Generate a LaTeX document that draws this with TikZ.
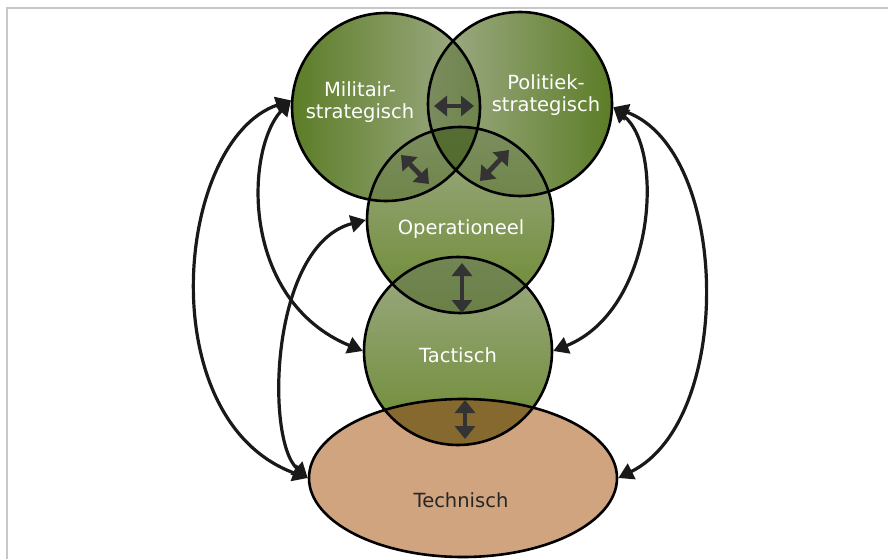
\documentclass[tikz,border=0pt]{standalone}
\usepackage{fontspec}
\setmainfont{DejaVu Sans}
\usetikzlibrary{arrows.meta,shapes.geometric}
\definecolor{gdark}{HTML}{5C7D27}
\definecolor{glight}{HTML}{A3AE8C}
\definecolor{gbot}{HTML}{6C8A30}
\definecolor{gtop}{HTML}{9DAA86}
\definecolor{gshade}{HTML}{3F5A18}
\definecolor{techfill}{HTML}{CFA47F}
\definecolor{olapbrown}{HTML}{85692F}
\definecolor{arrowgray}{HTML}{333333}
\definecolor{framegray}{HTML}{C8C8C8}
\begin{document}
\begin{tikzpicture}[x=1pt,y=1pt,
  shapeborder/.style={draw=black, line width=2.6pt, inner sep=0pt},
  lbl/.style={text=white, font=\fontsize{19.5}{21.5}\selectfont, align=center, inner sep=0pt},
  garrow/.style={draw=arrowgray, line width=4.8pt, {Triangle[length=13pt,width=20pt]}-{Triangle[length=13pt,width=20pt]}},
  link/.style={draw=black!90, line width=3.2pt, {Triangle[length=15pt,width=17pt]}-{Triangle[length=15pt,width=17pt]}}]
\useasboundingbox (0,0) rectangle (888,-559);
\fill[white] (0,0) rectangle (888,-559);
\draw[framegray, line width=2pt] (6.5,-559) -- (6.5,-8.5) -- (888,-8.5);

% centres
\coordinate (cM) at (386,-107);
\coordinate (cP) at (520,-104);
\coordinate (cO) at (460,-220);
\coordinate (cT) at (458,-351);
\coordinate (cX) at (463,-478);

% fills
\shade[left color=gdark, right color=glight] (cM) circle (94);
\shade[left color=glight, right color=gdark] (cP) circle (92);
\shade[top color=gtop, bottom color=gbot] (cO) circle (93);
\shade[top color=gtop, bottom color=gbot] (cT) circle (94);
\begin{scope}\clip (cM) circle (94); \fill[gshade, opacity=.4] (cP) circle (92);\end{scope}
\begin{scope}\clip (cM) circle (94); \fill[gshade, opacity=.35] (cO) circle (93);\end{scope}
\begin{scope}\clip (cP) circle (92); \fill[gshade, opacity=.35] (cO) circle (93);\end{scope}
\begin{scope}\clip (cO) circle (93); \fill[gshade, opacity=.45] (cT) circle (94);\end{scope}
\fill[techfill] (cX) ellipse [x radius=154, y radius=79];
\begin{scope}\clip (cX) ellipse [x radius=154, y radius=79]; \fill[olapbrown] (cT) circle (94);\end{scope}

% shapes (outlines)
\node[shapeborder, circle, minimum size=188pt] (mil) at (cM) {};
\node[shapeborder, circle, minimum size=184pt] (pol) at (cP) {};
\node[shapeborder, circle, minimum size=186pt] (op) at (cO) {};
\node[shapeborder, circle, minimum size=188pt] (tac) at (cT) {};
\node[shapeborder, ellipse, minimum width=308pt, minimum height=158pt] (tech) at (cX) {};

% labels
\node[lbl] (milT) at (360,-102) {Militair-\\strategisch};
\node[lbl] (polT) at (546,-95) {Politiek-\\strategisch};
\node[lbl, anchor=base] (opT) at (461,-234) {Operationeel};
\node[lbl, anchor=base] (tacT) at (458,-362) {Tactisch};
\node[lbl, anchor=base, text=black!85] (techT) at (461,-507) {Technisch};

% overlap arrows
\coordinate (mp1) at (434,-106); \coordinate (mp2) at (474,-106);
\coordinate (mo1) at (401,-155); \coordinate (mo2) at (429,-184);
\coordinate (po1) at (509,-150); \coordinate (po2) at (480,-181);
\coordinate (ot1) at (462,-263); \coordinate (ot2) at (462,-313);
\coordinate (tx1) at (465,-400); \coordinate (tx2) at (465,-439);
\draw[garrow] (mp1) -- (mp2);
\draw[garrow] (mo1) -- (mo2);
\draw[garrow] (po1) -- (po2);
\draw[garrow] (ot1) -- (ot2);
\draw[garrow] (tx1) -- (tx2);

% connectors
\draw[link] (mil.176) .. controls (175,-140) and (150,-420) .. (tech.west);
\draw[link] (mil.176) .. controls (245,-150) and (240,-300) .. (tac.west);
\draw[link] (op.west) .. controls (270,-245) and (265,-440) .. (tech.west);
\draw[link] (pol.-2) .. controls (665,-150) and (655,-310) .. (tac.east);
\draw[link] (pol.-2) .. controls (730,-150) and (735,-420) .. (tech.east);
\end{tikzpicture}
\end{document}
